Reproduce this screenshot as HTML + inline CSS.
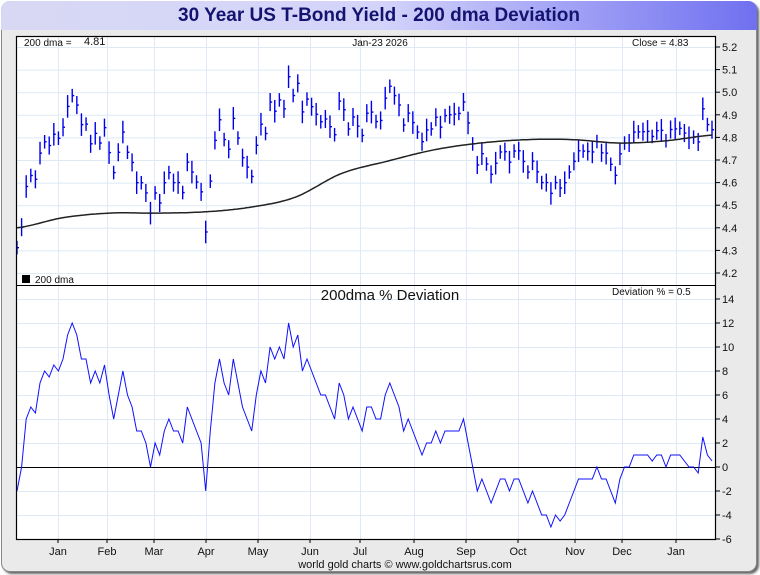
<!DOCTYPE html>
<html><head><meta charset="utf-8"><style>
body{margin:0;width:760px;height:575px;background:#fff;font-family:"Liberation Sans",sans-serif;overflow:hidden}
#frame{position:absolute;left:1px;top:1px;width:754px;height:569px;border:1px solid #888;border-radius:9px;background:#eaeaea;box-shadow:2px 2px 2px #666}
#title{position:absolute;left:1px;top:1px;width:756px;height:29px;border-radius:9px 9px 0 0;background:linear-gradient(90deg,#d8d8f4 0%,#d4d4fb 50%,#7070f0 100%);text-align:center;font:bold 19px "Liberation Sans",sans-serif;color:#141470;line-height:30px}
svg{position:absolute;left:0;top:0}
svg text{font-family:"Liberation Sans",sans-serif}
</style></head><body>
<div id="frame"></div>
<div id="title">30 Year US T-Bond Yield - 200 dma Deviation</div>
<svg id="c" width="760" height="575"></svg>
<script>
const monthLabels=["Jan","Feb","Mar","Apr","May","Jun","Jul","Aug","Sep","Oct","Nov","Dec","Jan"];
const monthX=[58,107,154,206,258,310,360,414,466,518,575,622,676];
const priceTicks=[4.2,4.3,4.4,4.5,4.6,4.7,4.8,4.9,5.0,5.1,5.2];
const devTicks=[-6,-4,-2,0,2,4,6,8,10,12,14];
const deviation=[-2,0,4,5,4.5,7,8,7.5,8.5,8,9,11,12,11,9,9,7,8,7,8.5,6,4,6,8,6,5,3,3,2,0,2,1,3,4,3,3,2,5,4,3,2,-2,3,7,9,7,6,9,7,5,4,3,6,8,7,10,9,10,9,12,10,11,8,9,8,7,6,6,5,4,7,6,4,5,4,3,5,5,4,4,6,7,6,5,3,4,3,2,1,2,2,3,2,3,3,3,3,4,2,0,-2,-1,-2,-3,-2,-1,-1,-2,-1,-1,-2,-3,-2,-3,-4,-4,-5,-4,-4.5,-4,-3,-2,-1,-1,-1,-1,0,-1,-1,-2,-3,-1,0,0,1,1,1,1,0.5,1,1,0,1,1,1,0.5,0,0,-0.5,2.5,1,0.5];
const dma=[4.40,4.445,4.465,4.465,4.47,4.49,4.535,4.64,4.695,4.745,4.775,4.79,4.79,4.775,4.785,4.81];
const headerDma="4.81", headerClose="4.83", headerDate="Jan-23  2026", lastDev="0.5";

const NS="http://www.w3.org/2000/svg", svg=document.getElementById('c');
function mk(t,a,p){const e=document.createElementNS(NS,t);for(const k in a)e.setAttribute(k,a[k]);(p||svg).appendChild(e);return e;}
const L=16,R=715,T=36,MID=285,B=539,X0=17,X1=712;
const yP=v=>47+(5.2-v)*226;
const yD=v=>467-v*12;
const xI=(i,n)=>X0+(X1-X0)*i/(n-1);
// smooth (Catmull-Rom) interpolation of dma at fractional index
function dmaAtF(f){const k=Math.max(0,Math.min(Math.floor(f),dma.length-2));const t=f-k;
 const p0=dma[Math.max(k-1,0)],p1=dma[k],p2=dma[k+1],p3=dma[Math.min(k+2,dma.length-1)];
 return 0.5*((2*p1)+(-p0+p2)*t+(2*p0-5*p1+4*p2-p3)*t*t+(-p0+3*p1-3*p2+p3)*t*t*t);}
function dmaAt(i){return dmaAtF(i/(deviation.length-1)*(dma.length-1));}

mk('rect',{x:L,y:T,width:R-L,height:B-T,fill:'#fff'});
const grid=mk('g',{stroke:'#deeaf5','stroke-width':1});


monthX.forEach(x=>mk('line',{x1:x+.5,x2:x+.5,y1:T,y2:B},grid));
priceTicks.forEach(v=>mk('line',{x1:L,x2:R,y1:yP(v)+.5,y2:yP(v)+.5},grid));
devTicks.forEach(v=>mk('line',{x1:L,x2:R,y1:yD(v)+.5,y2:yD(v)+.5},grid));
mk('line',{x1:L,x2:R,y1:yD(0)+.5,y2:yD(0)+.5,stroke:'#000'});
const ax=mk('g',{'font-size':'11px',fill:'#111'});


priceTicks.forEach(v=>{mk('line',{x1:R,x2:R+5,y1:yP(v),y2:yP(v),stroke:'#000'},ax);const t=mk('text',{x:722,y:yP(v)+4},ax);t.textContent=v.toFixed(1);});
devTicks.forEach(v=>{mk('line',{x1:R,x2:R+5,y1:yD(v),y2:yD(v),stroke:'#000'},ax);const t=mk('text',{x:722,y:yD(v)+4},ax);t.textContent=v;});
const xa=mk('g',{'font-size':'11px',fill:'#111','text-anchor':'middle'});


monthX.forEach((x,i)=>{mk('line',{x1:x,x2:x,y1:B,y2:B+4,stroke:'#000'},xa);const t=mk('text',{x:x,y:555},xa);t.textContent=monthLabels[i];});
const bars=mk('g',{stroke:'#0000ee','stroke-width':1.4});


const n=deviation.length;
deviation.forEach((d,i)=>{const c=dmaAt(i)*(1+d/100);const x=xI(i,n);const h=0.03+0.02*((i*7)%3)/2;
 mk('line',{x1:x,x2:x,y1:yP(c+h),y2:yP(c-h)},bars);mk('line',{x1:x,x2:x+2,y1:yP(c),y2:yP(c)},bars);});
let dp=[];for(let s=0;s<=300;s++){const f=s/300*(dma.length-1);dp.push((X0+(X1-X0)*s/300).toFixed(1)+','+yP(dmaAtF(f)).toFixed(1));}
const dl=mk('polyline',{points:dp.join(' '),fill:'none',stroke:'#222','stroke-width':1.5});


const pts=deviation.map((v,i)=>xI(i,n).toFixed(1)+','+yD(v).toFixed(1)).join(' ');
const dv=mk('polyline',{points:pts,fill:'none',stroke:'#1010ff','stroke-width':1});


mk('rect',{x:L+.5,y:T+.5,width:R-L,height:B-T,fill:'none',stroke:'#000','stroke-width':1.2});
mk('line',{x1:L,x2:R,y1:MID+.5,y2:MID+.5,stroke:'#000'});
function txt(x,y,s,name,extra){const t=mk('text',Object.assign({x:x,y:y,'font-size':'10px',fill:'#111'},extra||{}));t.textContent=s;return t;}
txt(24,46,'200 dma =','dma-label');
txt(84,45,headerDma,'dma-value',{'font-size':'11px'});
txt(380,46,headerDate,'date-label',{'text-anchor':'middle'});
txt(632,46,'Close = '+headerClose,'close-label');
const sq=mk('rect',{x:22,y:275,width:8,height:8,fill:'#000'});


txt(35,283,'200 dma','legend-entry');
txt(390,300,'200dma  %  Deviation','panel-title',{'font-size':'15px','text-anchor':'middle'});
txt(612,295,'Deviation % = '+lastDev,'deviation-label');
txt(405,568,'world gold charts © www.goldchartsrus.com','footer',{'font-size':'11px','text-anchor':'middle'});
</script>
</body></html>
